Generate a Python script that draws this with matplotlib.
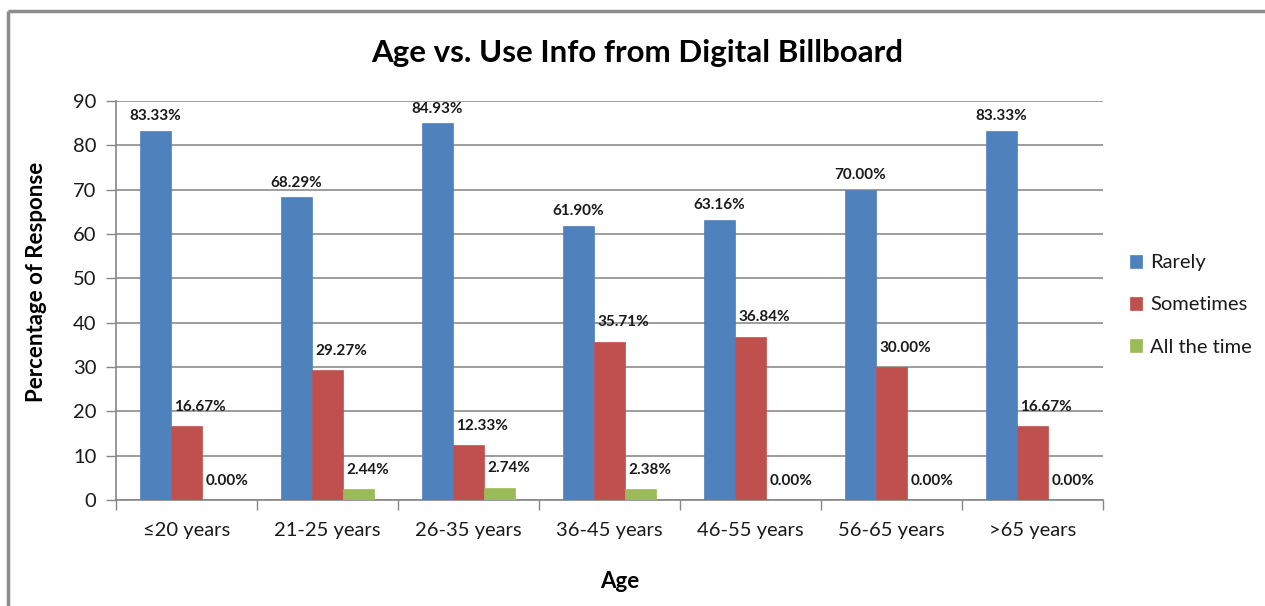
import numpy as np
import matplotlib.pyplot as plt
from matplotlib.lines import Line2D

plt.rcParams['font.family'] = ['Lato', 'DejaVu Sans']

age_groups = ['≤20 years', '21-25 years', '26-35 years', '36-45 years',
              '46-55 years', '56-65 years', '>65 years']
rarely = [83.33, 68.29, 84.93, 61.90, 63.16, 70.00, 83.33]
sometimes = [16.67, 29.27, 12.33, 35.71, 36.84, 30.00, 16.67]
all_the_time = [0.00, 2.44, 2.74, 2.38, 0.00, 0.00, 0.00]

series = [('Rarely', rarely, '#4F81BD'),
          ('Sometimes', sometimes, '#C0504D'),
          ('All the time', all_the_time, '#9BBB59')]

W, H = 1265, 606
fig = plt.figure(figsize=(W / 100, H / 100), dpi=100)
ax = fig.add_axes([116 / W, 1 - 500 / H, (1103 - 116) / W, (500 - 101) / H])

# outer chart frame: top and left edges
frame = dict(transform=fig.transFigure, color='#8c8c8c', linewidth=2.5,
             solid_capstyle='butt')
fig.lines.append(Line2D([8 / W, 1.05], [1 - 11 / H, 1 - 11 / H], **frame))
fig.lines.append(Line2D([8 / W, 8 / W], [-0.05, 1 - 11 / H], **frame))

x = np.arange(len(age_groups))
bw = 0.22
for i, (name, vals, color) in enumerate(series):
    pos = x + (i - 1) * bw
    bars = ax.bar(pos, vals, bw, color=color, edgecolor=color, linewidth=0.5,
                  label=name, zorder=3)
    for b, v in zip(bars, vals):
        if i == 0:
            ax.annotate(f'{v:.2f}%', (b.get_x() + bw / 2, v), xytext=(0, 10.5),
                        textcoords='offset points', ha='center', va='center',
                        fontsize=11, fontweight='bold', color='#1a1a1a')
        else:
            ax.annotate(f'{v:.2f}%', (b.get_x(), v), xytext=(2.5, 14),
                        textcoords='offset points', ha='left', va='center',
                        fontsize=11, fontweight='bold', color='#1a1a1a')

ax.set_xlim(-0.5, len(age_groups) - 0.5)
ax.set_ylim(0, 90)
ax.set_yticks(range(0, 91, 10))
ax.set_xticks(x)
ax.set_xticklabels(age_groups)
ax.set_xticks(np.arange(-0.5, len(age_groups), 1), minor=True)
ax.tick_params(axis='x', which='major', length=0, pad=16, labelsize=14.5, labelcolor='#1a1a1a')
ax.tick_params(axis='x', which='minor', length=7, width=1, color='#868686')
ax.tick_params(axis='y', length=7, width=1, color='#868686', pad=7,
               labelsize=14.5, labelcolor='#1a1a1a')

ax.grid(axis='y', color='#8c8c8c', linewidth=1.2, zorder=0)
for side in ['top', 'right']:
    ax.spines[side].set_visible(False)
for side in ['left', 'bottom']:
    ax.spines[side].set_color('#868686')
    ax.spines[side].set_linewidth(1.2)

fig.text(637 / W, 1 - 53 / H, 'Age vs. Use Info from Digital Billboard',
         ha='center', va='center', fontsize=22.5, fontweight='bold', color='black')
fig.text(37 / W, 1 - 282 / H, 'Percentage of Response', rotation=90,
         ha='center', va='center', fontsize=16, fontweight='bold', color='black')
fig.text(620 / W, 1 - 582 / H, 'Age', ha='center', va='center',
         fontsize=16, fontweight='bold', color='black')

ax.legend(loc='center left', bbox_to_anchor=(1112 / W, 1 - 305 / H),
          bbox_transform=fig.transFigure, frameon=False, fontsize=14.5,
          handlelength=0.6, handleheight=0.6, handletextpad=0.4,
          labelspacing=1.25, labelcolor='#1a1a1a')

fig.savefig('out.png', dpi=100)
